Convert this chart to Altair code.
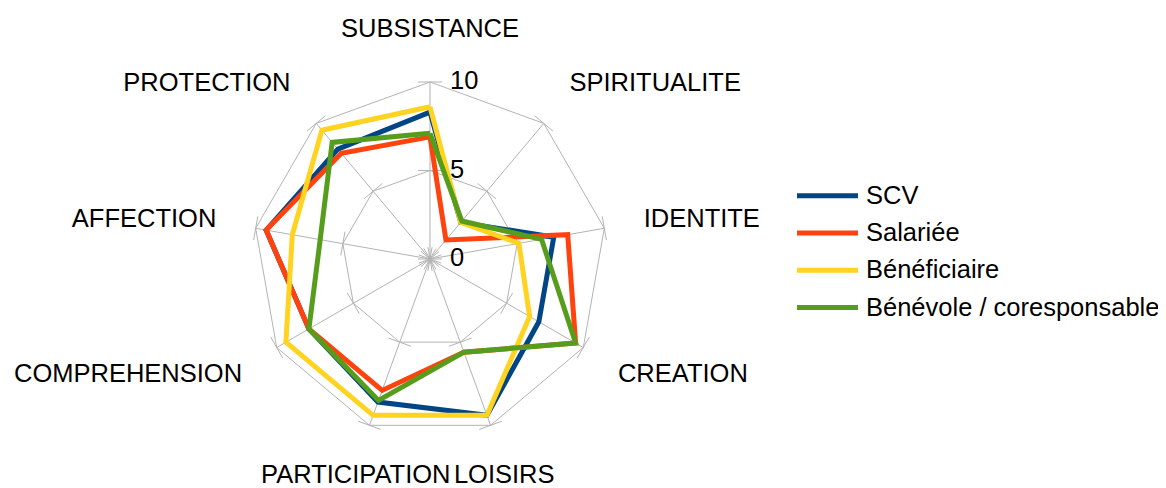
import math
import altair as alt
import pandas as pd

# ---------------- data ----------------
categories = ["SUBSISTANCE", "SPIRITUALITE", "IDENTITE", "CREATION", "LOISIRS",
              "PARTICIPATION", "COMPREHENSION", "AFFECTION", "PROTECTION"]
series_names = ["SCV", "Salariée", "Bénéficiaire", "Bénévole / coresponsable"]
scv = [8.3, 2.7, 7.1, 7.1, 9.4, 8.6, 7.9, 9.4, 8.1]
salariee = [6.9, 1.4, 7.9, 9.5, 5.6, 7.9, 7.9, 9.4, 7.8]
beneficiaire = [8.6, 2.7, 5.1, 6.5, 9.4, 9.4, 9.4, 7.9, 9.5]
benevole = [7.1, 2.8, 6.4, 9.5, 5.6, 8.5, 7.9, 6.3, 8.6]
series_values = [scv, salariee, beneficiaire, benevole]
colors = ["#004586", "#ff420e", "#ffd320", "#579d1c"]
ring_values = [0, 5, 10]
ring_labels = ["0", "5", "10"]

# ---------------- layout ----------------
W, H = 1150, 480          # plot area (page minus 8px margin)
CX, CY = 422, 251         # radar centre inside plot area (px)
S = 17.7                  # px per unit
GRID = "#b3b3b3"
FONT = "Liberation Sans"
FS = 25.5

xs = alt.Scale(domain=[-CX / S, (W - CX) / S], nice=False, zero=False)
ys = alt.Scale(domain=[-(H - CY) / S, CY / S], nice=False, zero=False)
cs = alt.Scale(domain=series_names, range=colors)

n = len(categories)
ang = [2 * math.pi * k / n for k in range(n)]


def X(field):
    return alt.X(field, type="quantitative", scale=xs, axis=None)


def Y(field):
    return alt.Y(field, type="quantitative", scale=ys, axis=None)


layers = []

# rings (polygons at 5 and 10)
ring_rows = []
for r in ring_values[1:]:
    for k in range(n + 1):
        a = ang[k % n]
        ring_rows.append({"ring": r, "k": k, "x": r * math.sin(a), "y": r * math.cos(a)})
layers.append(
    alt.Chart(pd.DataFrame(ring_rows)).mark_line(color=GRID, strokeWidth=1).encode(
        x=X("x"), y=Y("y"), detail="ring:N", order="k:Q")
)

# spokes
rmax = max(ring_values)
spoke_rows = [{"x": 0.0, "y": 0.0, "x2": rmax * math.sin(a), "y2": rmax * math.cos(a)} for a in ang]
layers.append(
    alt.Chart(pd.DataFrame(spoke_rows)).mark_rule(color=GRID, strokeWidth=1).encode(
        x=X("x"), y=Y("y"), x2="x2:Q", y2="y2:Q")
)

# tick marks perpendicular to spokes
h = 12 / S
tick_rows = []
for a in ang:
    for r in ring_values:
        px, py = r * math.sin(a), r * math.cos(a)
        qx, qy = math.cos(a), -math.sin(a)
        tick_rows.append({"x": px - h * qx, "y": py - h * qy, "x2": px + h * qx, "y2": py + h * qy})
layers.append(
    alt.Chart(pd.DataFrame(tick_rows)).mark_rule(color=GRID, strokeWidth=1).encode(
        x=X("x"), y=Y("y"), x2="x2:Q", y2="y2:Q")
)

# value labels on top spoke
vl = pd.DataFrame({"x": [0.0] * len(ring_values), "y": ring_values, "t": ring_labels})
layers.append(
    alt.Chart(vl).mark_text(align="left", baseline="middle", dx=20, dy=-1, fontSize=FS,
                            font=FONT, color="#000000").encode(x=X("x"), y=Y("y"), text="t:N")
)

# category labels
RX = 217 / S
RY = 230 / S
lab_rows = []
for k, c in enumerate(categories):
    a = ang[k]
    s, co = math.sin(a), math.cos(a)
    al = "center" if abs(s) < 0.5 else ("left" if s > 0 else "right")
    lab_rows.append({"x": RX * s, "y": RY * co, "t": c, "al": al})
lab = pd.DataFrame(lab_rows)
for al in ["left", "right", "center"]:
    layers.append(
        alt.Chart(lab[lab["al"] == al]).mark_text(align=al, baseline="middle", fontSize=FS,
                                                 font=FONT, color="#000000").encode(
            x=X("x"), y=Y("y"), text="t:N")
    )

# series lines
for name, vals in zip(series_names, series_values):
    rows = []
    for k in range(n + 1):
        a = ang[k % n]
        v = vals[k % n]
        rows.append({"serie": name, "k": k, "x": v * math.sin(a), "y": v * math.cos(a)})
    layers.append(
        alt.Chart(pd.DataFrame(rows)).mark_line(strokeWidth=5, strokeJoin="miter").encode(
            x=X("x"), y=Y("y"), order="k:Q",
            color=alt.Color("serie:N", scale=cs, legend=None))
    )

# legend (drawn manually)
def ux(px):
    return (px - 8 - CX) / S


def uy(py):
    return (CY - (py - 8)) / S


leg_rows = []
for i, name in enumerate(series_names):
    yy = uy(195.7 + i * 37.3)
    leg_rows.append({"serie": name, "x": ux(797), "x2": ux(858), "y": yy, "tx": ux(866)})
leg = pd.DataFrame(leg_rows)
layers.append(
    alt.Chart(leg).mark_rule(strokeWidth=5).encode(
        x=X("x"), x2="x2:Q", y=Y("y"),
        color=alt.Color("serie:N", scale=cs, legend=None))
)
layers.append(
    alt.Chart(leg).mark_text(align="left", baseline="middle", fontSize=FS, font=FONT,
                             color="#000000").encode(x=X("tx"), y=Y("y"), text="serie:N")
)

chart = alt.layer(*layers).properties(
    width=W, height=H, padding=0, autosize=alt.AutoSizeParams(type="none")
).configure_view(stroke=None)

chart.save("out.html", embed_options={"renderer": "svg", "actions": False})
